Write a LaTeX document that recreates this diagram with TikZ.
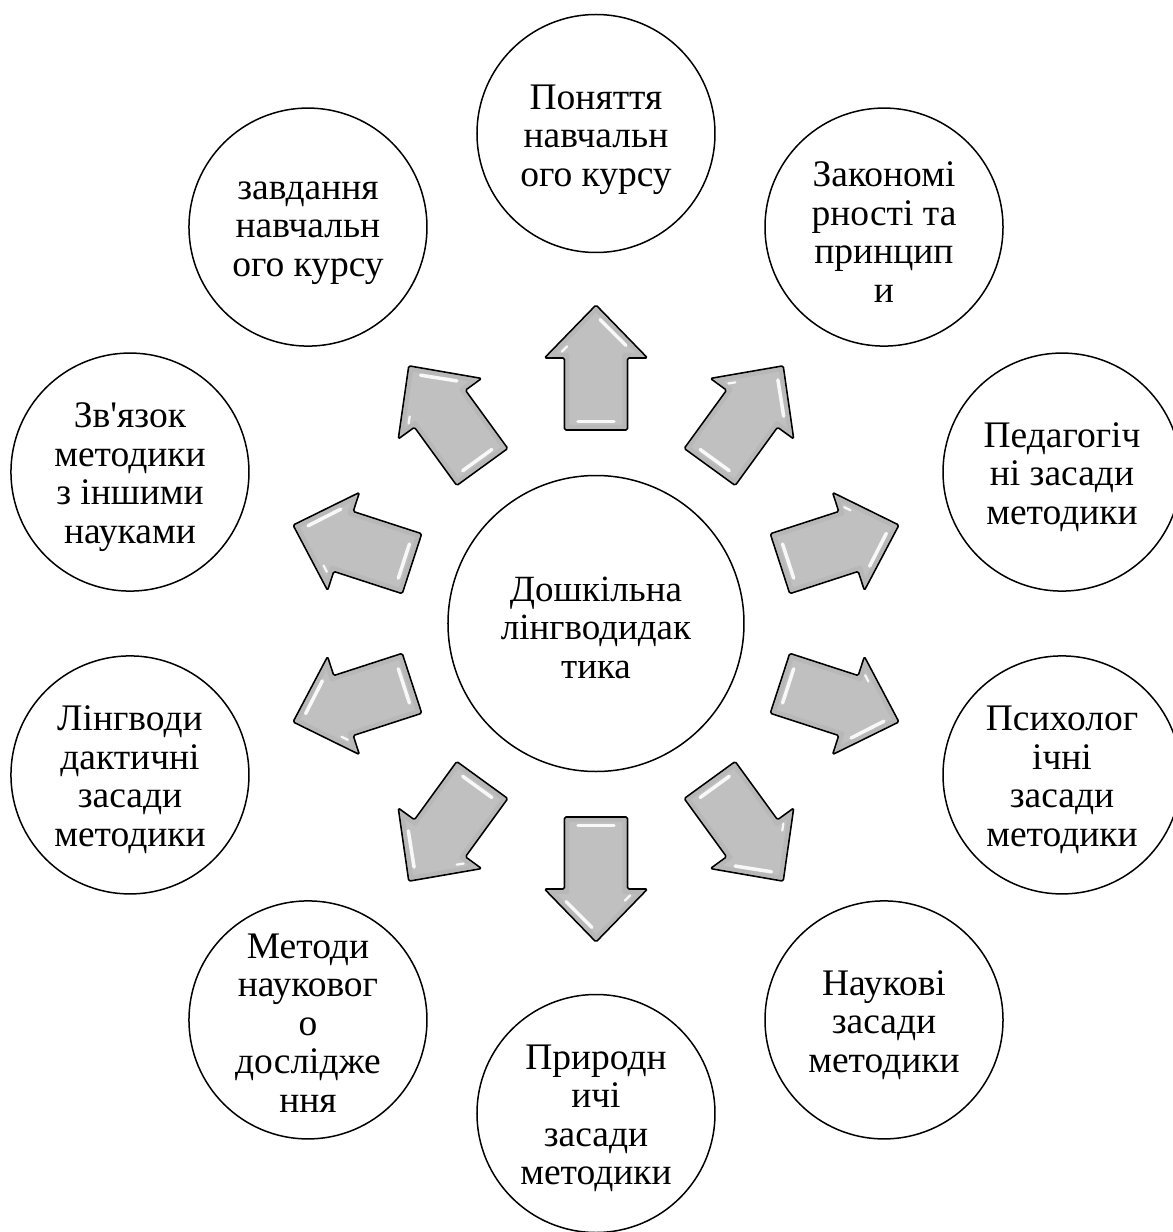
\documentclass[tikz,border=0pt]{standalone}
\usepackage{fontspec}
\setmainfont{Liberation Serif}[Ligatures=TeXOff]
\begin{document}
\begin{tikzpicture}[x=1pt,y=1pt,
  outer/.style={circle, draw=black, line width=1.5pt, fill=white, minimum size=238pt, inner sep=0pt, align=center, font=\fontsize{37.5}{38.5}\selectfont},
  hubc/.style={circle, draw=black, line width=1.5pt, fill=white, minimum size=296pt, inner sep=0pt, align=center, font=\fontsize{37}{38.5}\selectfont},
  lbl/.style={align=center, inner sep=0pt, font=\fontsize{37.5}{38.5}\selectfont},
  arrbody/.style={draw=black, line width=1.6pt, fill={rgb,255:red,192;green,192;blue,192}, rounded corners=1.5pt, line join=round},
  arrinner/.style={draw={rgb,255:red,175;green,175;blue,175}, line width=4pt, line join=round},
  shine/.style={draw=white, line width=3.5pt, line cap=round, opacity=0.9}]
\useasboundingbox (-596,-608.5) rectangle (577,623.5);
\clip (-596,-608.5) rectangle (577,623.5);

% central circle
\node[hubc] (hub) at (0,0) {};
\node[lbl, font=\fontsize{37}{38.5}\selectfont] (hubt) at ([yshift=-4pt]hub.center) {Дошкільна\\лінгводидак\\тика};

% outer circles
\node[outer] (c1) at (90:490) {};
\node[outer] (c2) at (54:490) {};
\node[outer] (c3) at (18:490) {};
\node[outer] (c4) at (-18:490) {};
\node[outer] (c5) at (-54:490) {};
\node[outer] (c6) at (-90:490) {};
\node[outer] (c7) at (-126:490) {};
\node[outer] (c8) at (-162:490) {};
\node[outer] (c9) at (162:490) {};
\node[outer] (c10) at (126:490) {};

\node[lbl] (t1) at ([yshift=-6pt]c1.center) {Поняття\\навчальн\\ого курсу};
\node[lbl] (t2) at ([yshift=-5pt]c2.center) {Закономі\\рності та\\принцип\\и};
\node[lbl] (t3) at ([yshift=-5pt]c3.center) {Педагогіч\\ні засади\\методики};
\node[lbl] (t4) at ([yshift=-5pt]c4.center) {Психолог\\ічні\\засади\\методики};
\node[lbl] (t5) at ([yshift=-5pt]c5.center) {Наукові\\засади\\методики};
\node[lbl] (t6) at ([yshift=-5pt]c6.center) {Природн\\ичі\\засади\\методики};
\node[lbl] (t7) at ([yshift=-3pt]c7.center) {Методи\\науковог\\о\\дослідже\\ння};
\node[lbl] (t8) at ([yshift=-5pt]c8.center) {Лінгводи\\дактичні\\засади\\методики};
\node[lbl] (t9) at ([yshift=-5pt]c9.center) {Зв'язок\\методики\\з іншими\\науками};
\node[lbl] (t10) at ([yshift=-6pt]c10.center) {завдання\\навчальн\\ого курсу};

% block arrows
\foreach \a in {90,54,18,-18,-54,-90,-126,-162,162,126}{
  \begin{scope}[shift={(\a:256)}, rotate=\a]
    \path[arrbody] (-62.5,-31.5) -- (9.5,-31.5) -- (9.5,-51.5) -- (62.5,0) -- (9.5,51.5) -- (9.5,31.5) -- (-62.5,31.5) -- cycle;
    \path[arrinner, opacity=0.45] (-59.5,-28.5) -- (12.5,-28.5) -- (12.5,-44.5) -- (58,0) -- (12.5,44.5) -- (12.5,28.5) -- (-59.5,28.5) -- cycle;
    \path[shine] (-54,-18) -- (-54,18);
    \path[shine] (48,-4) -- (22,-30);
    \path[shine, line width=2.2pt] (16,34) -- (21,29);
  \end{scope}
}
\end{tikzpicture}
\end{document}
